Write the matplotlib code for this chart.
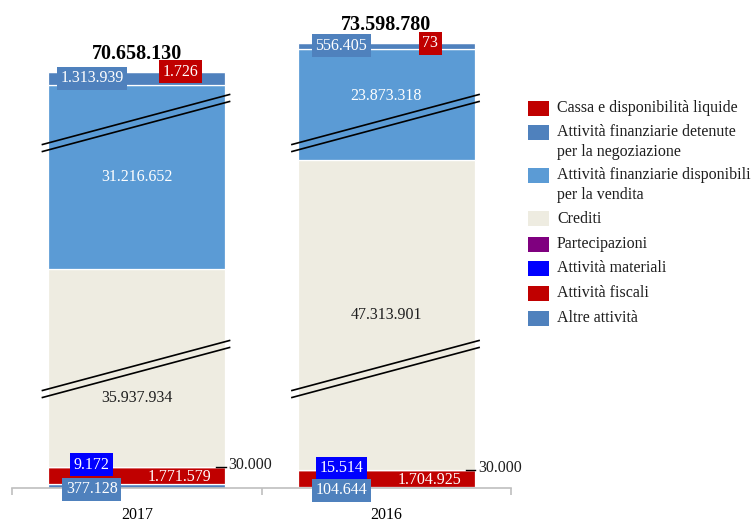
import numpy as np
import matplotlib
matplotlib.use("Agg")
import matplotlib.pyplot as plt
from matplotlib.patches import Rectangle

plt.rcParams["font.family"] = ["Liberation Serif", "DejaVu Serif"]

# ── data (euro) ──
years = ["2017", "2016"]
series = [
    "Cassa e disponibilità liquide",
    "Attività finanziarie detenute\nper la negoziazione",
    "Attività finanziarie disponibili\nper la vendita",
    "Crediti",
    "Partecipazioni",
    "Attività materiali",
    "Attività fiscali",
    "Altre attività",
]
cassa = [1726, 73]
hft = [1313939, 556405]
afs = [31216652, 23873318]
crediti = [35937934, 47313901]
partecipazioni = [30000, 30000]
materiali = [9172, 15514]
fiscali = [1771579, 1704925]
altre = [377128, 104644]
totals = [70658130, 73598780]

colors = ["#C00000", "#4F81BD", "#5B9BD5", "#EEECE1",
          "#7F007F", "#0000FF", "#C00000", "#4F81BD"]

values = [cassa, hft, afs, crediti, partecipazioni, materiali, fiscali, altre]

# ── broken axis: two compressed gaps in the value axis ──
PX_PER_M = 9.8
data_knots = np.array([0, 12.14, 27.94, 52.99, 65.49, 300.0]) * 1e6
disp_knots = np.array([0, 12.14, 12.19, 37.24, 37.29, 271.8]) * 1e6


def fwd(v):
    return np.interp(v, data_knots, disp_knots)


def inv(d):
    return np.interp(d, disp_knots, data_knots)


def fmt(v):
    return f"{v:,}".replace(",", ".")


W, H = 753, 526
fig = plt.figure(figsize=(W / 100, H / 100), dpi=100)
ax_bottom_px, ax_top_px = 488, 0
ax = fig.add_axes([12 / W, 1 - ax_bottom_px / H, 499 / W, (ax_bottom_px - ax_top_px) / H])
ax.set_yscale("function", functions=(fwd, inv))
ax.set_xlim(-0.5, 1.5)
ax.set_ylim(0, inv((ax_bottom_px - ax_top_px) / PX_PER_M * 1e6))

x = np.arange(len(years))
bw = 0.708

# stack from the bottom: reverse of legend order
order = list(range(len(series)))[::-1]
bottoms = {}
cum = np.zeros(len(years))
for i in order:
    v = np.array(values[i], dtype=float)
    ax.bar(x, v, bottom=cum, width=bw, color=colors[i], edgecolor="white",
           linewidth=0.9, zorder=2)
    bottoms[i] = cum.copy()
    cum = cum + v


def seg_mid(i, j):
    lo = bottoms[i][j]
    hi = lo + values[i][j]
    return inv((fwd(lo) + fwd(hi)) / 2)


def put(i, j, dx, color, box=None, dy_px=0, ha="center"):
    kw = dict(ha=ha, va="center", fontsize=11.5, color=color, zorder=5)
    if box:
        kw["bbox"] = dict(boxstyle="square,pad=0.22", fc=box, ec="none")
    ax.annotate(fmt(values[i][j]), (x[j] + dx, seg_mid(i, j)),
                textcoords="offset pixels", xytext=(0, -dy_px), **kw)


for j in range(len(years)):
    put(0, j, 0.176, "white", box=colors[0])                       # cassa
    put(1, j, -0.18, "white", box=colors[1])                       # HFT
    put(2, j, 0.0, "white", dy_px=(-9 if j == 1 else 0))            # AFS
    put(3, j, 0.0, "#1E1E1E", dy_px=(30 if j == 0 else 0))          # crediti
    put(5, j, -0.18, "white", box=colors[5], dy_px=-2)              # materiali
    put(6, j, 0.172, "white", dy_px=1)                              # fiscali
    put(7, j, -0.18, "white", box=colors[7], dy_px=3)               # altre
    # partecipazioni: leader + label outside
    ym = seg_mid(4, j)
    ax.plot([x[j] + 0.318, x[j] + 0.356], [ym, ym], color="black", lw=1.0,
            zorder=5, clip_on=False)
    ax.annotate(fmt(partecipazioni[j]), (x[j] + 0.368, ym), textcoords="offset pixels",
                xytext=(0, 2), ha="left", va="center", fontsize=11.5, color="#1E1E1E")
    # totals
    ax.annotate(fmt(totals[j]), (x[j], totals[j]), textcoords="offset pixels",
                xytext=(0, 13), ha="center", va="baseline", fontsize=14.5,
                fontweight="bold", color="black", annotation_clip=False)

# break marks across both bars
for c in x:
    for d_px in (119, 365):
        for off in (-3.5, 3.5):
            y0 = inv((d_px - 25 + off) / PX_PER_M * 1e6)
            y1 = inv((d_px + 25 + off) / PX_PER_M * 1e6)
            ax.plot([c - 0.378, c + 0.372], [y0, y1], color="black", lw=1.2, zorder=4)

# axes styling
for s in ("left", "top", "right"):
    ax.spines[s].set_visible(False)
ax.spines["bottom"].set_color("#BFBFBF")
ax.spines["bottom"].set_linewidth(1.2)
ax.set_yticks([])
ax.set_xticks(x)
ax.set_xticklabels(years)
ax.set_xticks([-0.5, 0.5, 1.5], minor=True)
ax.tick_params(axis="x", which="major", length=0, pad=14, labelsize=11.5)
ax.tick_params(axis="x", which="minor", length=5, color="#BFBFBF", width=1.2)

# legend, drawn by hand in figure pixels
leg_y = [108, 132, 175, 219, 244, 268, 293, 318]
for lab, col, yc in zip(series, colors, leg_y):
    fig.patches.append(Rectangle((528 / W, 1 - (yc + 7.5) / H), 21 / W, 15 / H,
                                 transform=fig.transFigure, fc=col, ec="none"))
    for k, line in enumerate(lab.split("\n")):
        fig.text(557 / W, 1 - (yc + 20 * k) / H, line, ha="left", va="center",
                 fontsize=11.5, color="#1E1E1E")

fig.savefig("out.png", dpi=100)
